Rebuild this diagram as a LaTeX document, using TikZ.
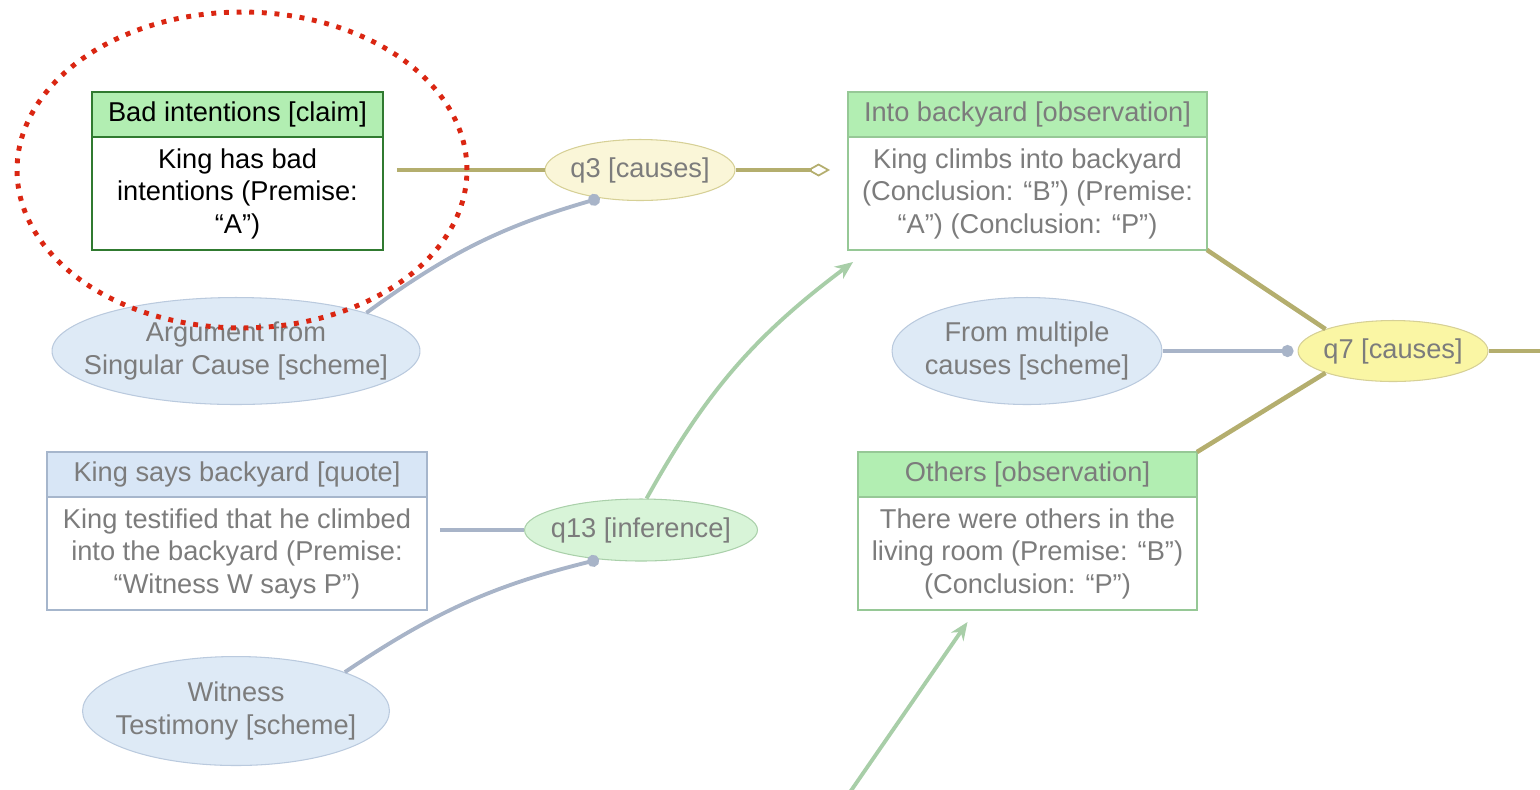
\documentclass[tikz,border=0pt]{standalone}
\usepackage{fontspec}
\setmainfont{Liberation Sans}
\usetikzlibrary{positioning,arrows.meta,shapes.geometric}

\definecolor{claimgreen}{RGB}{48,122,48}
\definecolor{obsgreen}{RGB}{150,200,150}
\definecolor{hdrgreen}{RGB}{178,238,178}
\definecolor{quoteblue}{RGB}{166,182,204}
\definecolor{hdrblue}{RGB}{216,230,246}
\definecolor{schemefill}{RGB}{222,234,246}
\definecolor{schemedraw}{RGB}{186,202,222}
\definecolor{paleyellow}{RGB}{250,246,216}
\definecolor{brightyellow}{RGB}{250,246,164}
\definecolor{yellowdraw}{RGB}{214,208,150}
\definecolor{palegreen}{RGB}{216,244,216}
\definecolor{greendraw}{RGB}{170,208,170}
\definecolor{olive}{RGB}{180,174,110}
\definecolor{linkblue}{RGB}{168,180,200}
\definecolor{arrowgreen}{RGB}{168,206,168}
\definecolor{softtext}{RGB}{124,124,124}
\definecolor{markred}{RGB}{218,38,18}

\tikzset{
  txt/.style={font=\fontsize{15.5}{18.5}\selectfont, align=center},
  head/.style={txt, draw, line width=1.6pt, inner sep=0pt, outer sep=0pt, minimum height=0.9cm},
  body/.style={txt, draw, line width=1.6pt, inner sep=0pt, outer sep=0pt, minimum height=2.26cm, fill=white},
  claimhead/.style={head, draw=claimgreen, fill=hdrgreen},
  claimbody/.style={body, draw=claimgreen},
  obshead/.style={head, draw=obsgreen, fill=hdrgreen, text=softtext},
  obsbody/.style={body, draw=obsgreen, text=softtext},
  quotehead/.style={head, draw=quoteblue, fill=hdrblue, text=softtext},
  quotebody/.style={body, draw=quoteblue, text=softtext},
  oval/.style={txt, ellipse, inner xsep=-1cm, inner ysep=-0.3cm, line width=0.6pt, text=softtext},
  scheme/.style={oval, draw=schemedraw, fill=schemefill, minimum height=2.14cm},
  causes/.style={oval, draw=yellowdraw, minimum width=3.8cm, minimum height=1.22cm},
  inference/.style={oval, draw=greendraw, fill=palegreen, minimum width=4.66cm, minimum height=1.24cm},
  causeline/.style={draw=olive, line width=2.6pt},
  schemelink/.style={draw=linkblue, line width=2.2pt, -{Circle[length=0.24cm]}},
  quotelink/.style={draw=linkblue, line width=2.2pt},
  obsarrow/.style={draw=arrowgreen, line width=2.2pt, -{Stealth[length=0.36cm, width=0.3cm]}},
  highlight/.style={ellipse, draw=markred, line width=2.8pt, dash pattern=on 2.8pt off 4.4pt}
}

\begin{document}
\begin{tikzpicture}[x=0.02cm, y=-0.02cm]
  \useasboundingbox (0,0) rectangle (1540,789);

  % boxes
  \node[claimhead, minimum width=5.82cm] (badhead) at (237.5,114.5) {Bad intentions [claim]};
  \node[claimbody, minimum width=5.82cm, below=0pt of badhead] (badbody) {King has bad\\intentions (Premise:\\“A”)};

  \node[obshead, minimum width=7.18cm] (intohead) at (1027.5,114.5) {Into backyard [observation]};
  \node[obsbody, minimum width=7.18cm, below=0pt of intohead] (intobody) {King climbs into backyard\\(Conclusion: “B”) (Premise:\\“A”) (Conclusion: “P”)};

  \node[quotehead, minimum width=7.6cm] (quotehead) at (237,474.5) {King says backyard [quote]};
  \node[quotebody, minimum width=7.6cm, below=0pt of quotehead] (quotebody) {King testified that he climbed\\into the backyard (Premise:\\“Witness W says P”)};

  \node[obshead, minimum width=6.78cm] (otherhead) at (1027.5,474.5) {Others [observation]};
  \node[obsbody, minimum width=6.78cm, below=0pt of otherhead] (otherbody) {There were others in the\\living room (Premise: “B”)\\(Conclusion: “P”)};

  % ellipses
  \node[causes, fill=paleyellow] (q3) at (640,170) {q3 [causes]};
  \node[causes, fill=brightyellow] (q7) at (1393,351) {q7 [causes]};
  \node[inference] (q13) at (641,530) {q13 [inference]};
  \node[scheme, minimum width=7.36cm] (singular) at (236,351) {Argument from\\Singular Cause [scheme]};
  \node[scheme, minimum width=5.4cm] (multi) at (1027,351) {From multiple\\causes [scheme]};
  \node[scheme, minimum width=6.14cm, minimum height=2.18cm] (witness) at (236,711) {Witness\\Testimony [scheme]};

  % links
  \draw[causeline, shorten <=0.28cm] (badbody.east |- q3.west) -- (q3.west);
  \draw[causeline, -{Diamond[open, length=0.46cm, width=0.26cm, line width=1pt]}, shorten >=0.36cm] (q3.east) -- (intohead.west |- q3.east);
  \draw[schemelink] (singular.north east) to[bend left=10] (q3.215);

  \draw[causeline] (intobody.south east) -- (q7.north west);
  \draw[causeline] (otherhead.north east) -- (q7.south west);
  \coordinate (q7out) at (1540,351);
  \draw[causeline] (q7.east) -- (q7out);
  \draw[schemelink, shorten >=0.08cm] (multi.east) -- (q7.west);

  \draw[quotelink, shorten <=0.26cm] (quotebody.east |- q13.west) -- (q13.west);
  \draw[schemelink] (witness.north east) to[bend left=10] (q13.215);
  \draw[obsarrow] (q13.80) to[bend left=12] ([xshift=0.1cm, yshift=-0.24cm]intobody.south west);
  \coordinate (offpage) at (848,795);
  \draw[obsarrow] (offpage) -- ([xshift=-1.2cm, yshift=-0.24cm]otherbody.south);

  % highlight
  \node[highlight, minimum width=9cm, minimum height=6.32cm] (focus) at (242,170) {};
\end{tikzpicture}
\end{document}
